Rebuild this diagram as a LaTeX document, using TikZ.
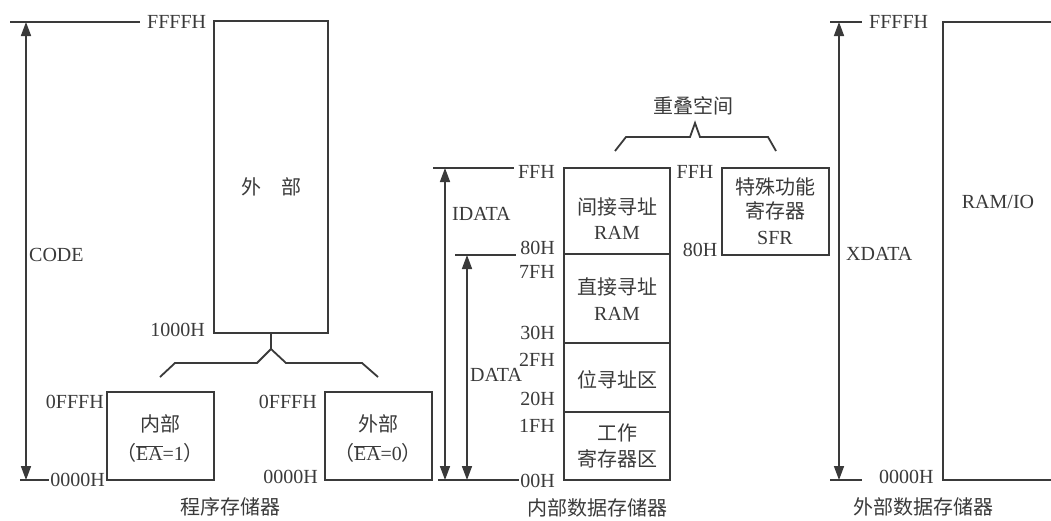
\documentclass[tikz,border=0pt]{standalone}
\usepackage{fontspec}
\setmainfont{Liberation Serif}
\newfontfamily\cjk{Noto Sans CJK SC}
\usetikzlibrary{arrows.meta}
\definecolor{ink}{HTML}{3A3A3A}
\newcommand{\zh}[1]{{\cjk #1}}
\begin{document}
\begin{tikzpicture}[x=1pt,y=-1pt,
  every node/.style={font=\fontsize{20}{24}\selectfont, text=ink, inner sep=1pt},
  ln/.style={draw=ink, line width=1.8pt},
  dim/.style={draw=ink, line width=1.6pt, {Triangle[length=14pt,width=10pt]}-{Triangle[length=14pt,width=10pt]}},
  lbl/.style={anchor=east},
  memblock/.style={draw=ink, line width=1.8pt}]
\useasboundingbox (0,0) rectangle (1051,520);
\fill[white] (0,0) rectangle (1051,520);

% ---------- program memory ----------
\coordinate (cT) at (10,22);
\coordinate (cB) at (20,480);
\node[anchor=west] (cFFFF) at (146,22) {FFFFH};
\draw[ln] (cT) -- ([xshift=-6pt]cFFFF.west);
\node[anchor=east] (c0000) at (106,480) {0000H};
\draw[ln] (cB) -- (c0000.west);
\coordinate (cA1) at (26,22);
\coordinate (cA2) at (26,480);
\draw[dim] (cA1) -- (cA2);
\node[anchor=west] (code) at (28,255) {CODE};

\draw[memblock] (214,21) rectangle (328,333);
\node (ext) at (271,187) {\zh{外\quad 部}};
\node[lbl] (c1000) at (206,330) {1000H};
\coordinate (stem1) at (271,333);
\coordinate (peak1) at (271,349);
\draw[ln] (stem1) -- (peak1);
\draw[ln, line join=miter] (160,377) -- (175,363) -- (257,363) -- (peak1) -- (286,363) -- (362,363) -- (378,377);

\draw[memblock] (107,392) rectangle (214,480);
\node (in1) at (160,424) {\zh{内部}};
\node (in2) at (160,453) {\zh{（}$\overline{\hbox{EA}}$=1\zh{）}};
\node[lbl] (c0fff1) at (105,402) {0FFFH};

\draw[memblock] (325,392) rectangle (432,480);
\node (ex1) at (378,424) {\zh{外部}};
\node (ex2) at (378,453) {\zh{（}$\overline{\hbox{EA}}$=0\zh{）}};
\node[lbl] (c0fff2) at (318,402) {0FFFH};
\node[lbl] (c0000b) at (319,477) {0000H};

\node (t1) at (230,507) {\zh{程序存储器}};

% ---------- internal data memory ----------
\node[lbl] (iFF) at (556,172) {FFH};
\node[lbl] (i80) at (556,248) {80H};
\node[lbl] (i7F) at (556,272) {7FH};
\node[lbl] (i30) at (556,333) {30H};
\node[lbl] (i2F) at (556,360) {2FH};
\node[lbl] (i20) at (556,399) {20H};
\node[lbl] (i1F) at (556,426) {1FH};
\node[lbl] (i00) at (556,481) {00H};
\coordinate (iT) at (433,168);
\coordinate (iM) at (455,255);
\coordinate (iB) at (438,480);
\draw[ln] (iT) -- ([xshift=-3pt]iFF.west |- iT);
\draw[ln] (iM) -- ([xshift=-3pt]i80.west |- iM);
\draw[ln] (iB) -- (i00.west |- iB);
\coordinate (idA1) at (445,168);
\coordinate (idA2) at (445,480);
\coordinate (dA1) at (467,255);
\coordinate (dA2) at (467,480);
\draw[dim] (idA1) -- (idA2);
\draw[dim] (dA1) -- (dA2);
\node[anchor=west] (idata) at (451,214) {IDATA};
\node[anchor=west] (data) at (469,375) {DATA};

\draw[memblock] (564,168) rectangle (670,480);
\draw[ln] (564,254) -- (670,254);
\draw[ln] (564,343) -- (670,343);
\draw[ln] (564,412) -- (670,412);
\node (r1a) at (617,207) {\zh{间接寻址}};
\node (r1b) at (617,233) {RAM};
\node (r2a) at (617,287) {\zh{直接寻址}};
\node (r2b) at (617,314) {RAM};
\node (r3) at (617,380) {\zh{位寻址区}};
\node (r4a) at (617,433) {\zh{工作}};
\node (r4b) at (617,459) {\zh{寄存器区}};
\node (t2) at (597,508) {\zh{内部数据存储器}};

% SFR
\node (sFF) at (695,172) {FFH};
\node (s80) at (700,250) {80H};
\draw[memblock] (722,168) rectangle (829,255);
\node (sf1) at (775,187) {\zh{特殊功能}};
\node (sf2) at (775,211) {\zh{寄存器}};
\node (sf3) at (775,238) {SFR};
\draw[ln, line join=miter] (615,151) -- (626,137) -- (690,137) -- (695,123) -- (700,137) -- (768,137) -- (776,151);
\node (ov) at (693,106) {\zh{重叠空间}};

% ---------- external data memory ----------
\node[anchor=west] (xFFFF) at (868,22) {FFFFH};
\node[anchor=west] (x0000) at (878,477) {0000H};
\coordinate (xT) at (830,22);
\coordinate (xB) at (830,480);
\draw[ln] (xT) -- ([xshift=-6pt]xFFFF.west |- xT);
\draw[ln] (xB) -- ([xshift=-16pt]x0000.west |- xB);
\coordinate (xA1) at (839,22);
\coordinate (xA2) at (839,480);
\draw[dim] (xA1) -- (xA2);
\node[anchor=west] (xdata) at (845,254) {XDATA};
\draw[ln] (1056,22) -- (943,22) -- (943,480) -- (1056,480);
\node (ramio) at (998,202) {RAM/IO};
\node (t3) at (923,507) {\zh{外部数据存储器}};
\end{tikzpicture}
\end{document}
